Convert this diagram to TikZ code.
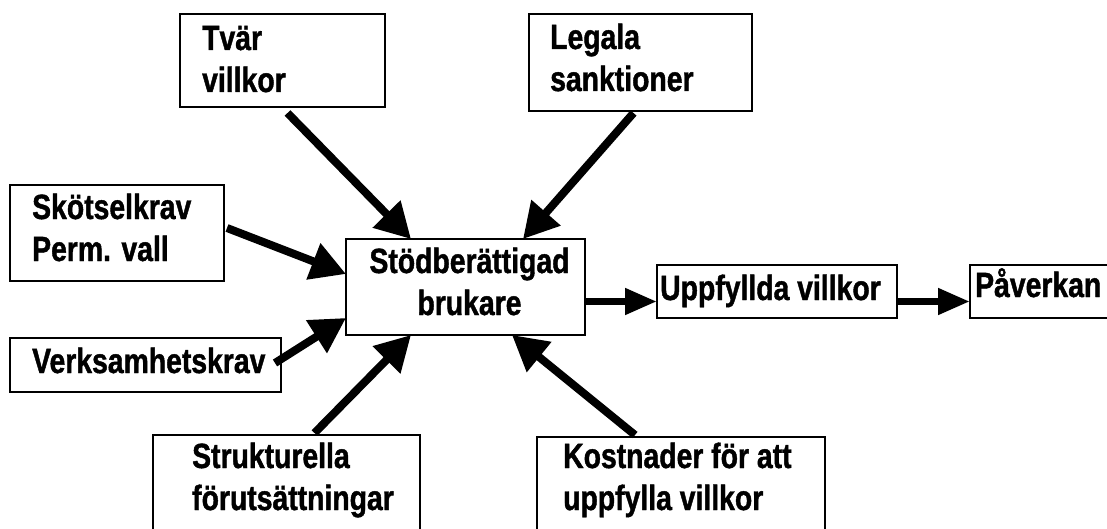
\documentclass[tikz,border=0pt]{standalone}
\usepackage{fontspec}
\setmainfont{Liberation Sans}[FakeStretch=0.81,FakeBold=1.2]
\usetikzlibrary{arrows.meta,calc}
\begin{document}
\begin{tikzpicture}[x=1pt,y=-1pt,
  box/.style={draw=black, line width=1.6pt, rectangle, anchor=north west, inner sep=0pt, outer sep=0pt},
  lbl/.style={anchor=base west, inner sep=0pt, align=left, font=\bfseries\fontsize{35}{42}\selectfont},
  darrow/.style={line width=8pt, -{Triangle[length=35pt,width=37pt]}},
  harrow/.style={line width=7.5pt, -{Triangle[length=32pt,width=25pt]}},
]
\useasboundingbox (0,0) rectangle (1107,529);
\clip (0,0) rectangle (1107,529);

% boxes (label anchors sit on the last text line)
\node[box, minimum width=205pt, minimum height=93pt] (tvar) at (180,14) {};
\node[lbl] (tvart) at ($(tvar.north west)+(22,78)$) {Tvär\\villkor};

\node[box, minimum width=223pt, minimum height=97pt] (legala) at (529,14) {};
\node[lbl] (legalat) at ($(legala.north west)+(21,77)$) {Legala\\sanktioner};

\node[box, minimum width=214pt, minimum height=96pt] (skot) at (10,185) {};
\node[lbl] (skott) at ($(skot.north west)+(22,76)$) {Skötselkrav\\Perm. vall};

\node[box, minimum width=271pt, minimum height=54pt] (verk) at (10,338) {};
\node[lbl] (verkt) at ($(verk.north west)+(22,35)$) {Verksamhetskrav};

\node[box, minimum width=239pt, minimum height=96pt] (stod) at (346,239) {};
\node[lbl, anchor=base, align=center] (stodt) at ($(stod.north)+(4,76)$) {Stödberättigad\\brukare};

\node[box, minimum width=240pt, minimum height=53pt] (uppf) at (657,265) {};
\node[lbl] (uppft) at ($(uppf.north west)+(3,35)$) {Uppfyllda villkor};

\node[box, minimum width=145pt, minimum height=53pt] (pav) at (970,265) {};
\node[lbl] (pavt) at ($(pav.north west)+(5,32)$) {Påverkan};

\node[box, minimum width=267pt, minimum height=125pt] (strukt) at (153,435) {};
\node[lbl] (struktt) at ($(strukt.north west)+(39,75)$) {Strukturella\\förutsättningar};

\node[box, minimum width=288pt, minimum height=123pt] (kost) at (537,437) {};
\node[lbl] (kostt) at ($(kost.north west)+(26,73)$) {Kostnader för att\\uppfylla villkor};

% arrows
\draw[darrow] ($(tvar.south)+(5,6)$) -- ($(stod.north west)+(65,0)$);
\draw[darrow] ($(legala.south)+(-7,2)$) -- ($(stod.north east)+(-62,0)$);
\draw[darrow] ($(skot.east)+(3,-5)$) -- ($(stod.west)+(0,-13)$);
\draw[darrow] ($(verk.east)+(-6,-2)$) -- ($(stod.west)+(0,31)$);
\draw[darrow] ($(strukt.north)+(28,-2)$) -- ($(stod.south west)+(65,0)$);
\draw[darrow] ($(kost.north)+(-46,-2)$) -- ($(stod.south east)+(-73,0)$);
\coordinate (q1) at ($(uppf.west)+(0,10)$);
\draw[harrow] (stod.east |- q1) -- (q1);
\draw[harrow] ($(uppf.east)+(0,10)$) -- ($(pav.west)+(0,10)$);
\end{tikzpicture}
\end{document}
